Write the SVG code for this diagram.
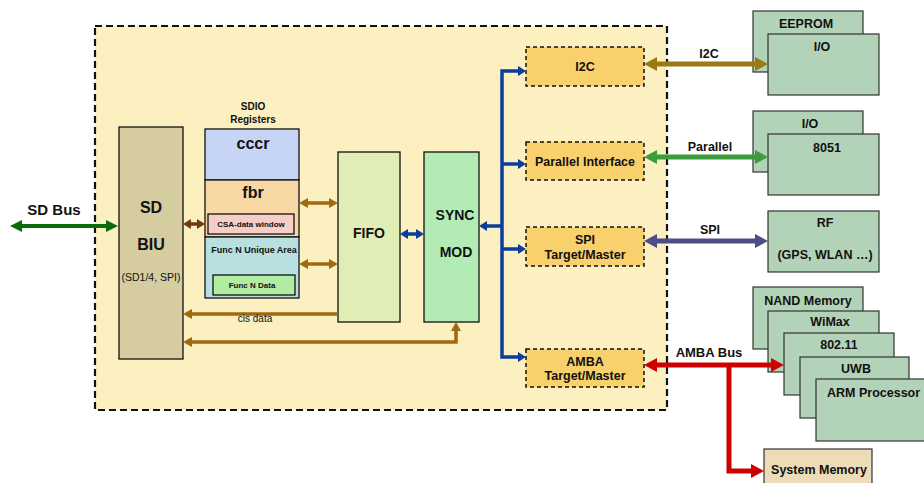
<svg xmlns="http://www.w3.org/2000/svg" width="924" height="483" viewBox="0 0 924 483">
<style>
text{font-family:"Liberation Sans",Arial,sans-serif;font-weight:bold;fill:#111;text-anchor:middle}
.n{font-weight:normal}
.box{stroke:#111;stroke-width:1.3}
.ext{fill:#b3d3b8;stroke:#333;stroke-width:1.2}
.ifc{fill:#f8d06c;stroke:#111;stroke-width:1.5;stroke-dasharray:4 3}
.br{stroke:#a0680f;stroke-width:3.5;fill:none}
.bl{stroke:#0b3d9e;stroke-width:3.5;fill:none}
</style>
<defs>
<marker id="mSd" viewBox="0 0 12 12" refX="1" refY="6" markerWidth="12" markerHeight="12" markerUnits="userSpaceOnUse" orient="auto-start-reverse"><path d="M0,0 L12,6 L0,12 z" fill="#0a6b0a"/></marker>
<marker id="mDb" viewBox="0 0 8 10" refX="1" refY="5" markerWidth="8" markerHeight="10" markerUnits="userSpaceOnUse" orient="auto-start-reverse"><path d="M0,0 L8,5 L0,10 z" fill="#6b3c0f"/></marker>
<marker id="mBr" viewBox="0 0 9 10" refX="1" refY="5" markerWidth="9" markerHeight="10" markerUnits="userSpaceOnUse" orient="auto-start-reverse"><path d="M0,0 L9,5 L0,10 z" fill="#a0680f"/></marker>
<marker id="mBl" viewBox="0 0 8 10" refX="1" refY="5" markerWidth="8" markerHeight="10" markerUnits="userSpaceOnUse" orient="auto-start-reverse"><path d="M0,0 L8,5 L0,10 z" fill="#0b3d9e"/></marker>
<marker id="mI2" viewBox="0 0 13 14" refX="1" refY="7" markerWidth="13" markerHeight="14" markerUnits="userSpaceOnUse" orient="auto-start-reverse"><path d="M0,0 L13,7 L0,14 z" fill="#9a7a16"/></marker>
<marker id="mPa" viewBox="0 0 13 14" refX="1" refY="7" markerWidth="13" markerHeight="14" markerUnits="userSpaceOnUse" orient="auto-start-reverse"><path d="M0,0 L13,7 L0,14 z" fill="#3c9c3c"/></marker>
<marker id="mSp" viewBox="0 0 13 14" refX="1" refY="7" markerWidth="13" markerHeight="14" markerUnits="userSpaceOnUse" orient="auto-start-reverse"><path d="M0,0 L13,7 L0,14 z" fill="#4e4d86"/></marker>
<marker id="mAm" viewBox="0 0 13 14" refX="1" refY="7" markerWidth="13" markerHeight="14" markerUnits="userSpaceOnUse" orient="auto-start-reverse"><path d="M0,0 L13,7 L0,14 z" fill="#cc0000"/></marker>
</defs>

<g id="sdio-card">
<rect x="95" y="26" width="572" height="384" fill="#fcefc0" stroke="#111" stroke-width="2.2" stroke-dasharray="7 4"/>
</g>

<g id="sd-biu">
<rect class="box" x="119" y="127" width="64" height="232" fill="#d5cca0"/>
<text x="151" y="213" font-size="16">SD</text>
<text x="151" y="250" font-size="16">BIU</text>
<text class="n" x="151" y="281" font-size="10.5" fill="#333">(SD1/4, SPI)</text>
</g>

<g id="sdio-registers">
<text x="253" y="110" font-size="10">SDIO</text>
<text x="253" y="123" font-size="10">Registers</text>
<rect class="box" x="205" y="129" width="94" height="51" fill="#c6d4f5"/>
<text x="253" y="149" font-size="16">cccr</text>
<rect class="box" x="205" y="180" width="94" height="57" fill="#f8d9a5"/>
<text x="253" y="198" font-size="16">fbr</text>
<rect class="box" x="208" y="214" width="86" height="20" fill="#f5cfc5"/>
<text x="251" y="227" font-size="8">CSA-data window</text>
<rect class="box" x="205" y="237" width="94" height="61" fill="#b8e0e0"/>
<text x="254" y="253" font-size="9">Func N Unique Area</text>
<rect class="box" x="213" y="275" width="82" height="20" fill="#b2eba2"/>
<text x="252" y="288" font-size="8">Func N Data</text>
</g>

<g id="fifo">
<rect class="box" x="338" y="152" width="62" height="170" fill="#e0edb5"/>
<text x="369" y="238" font-size="14">FIFO</text>
</g>

<g id="sync-mod">
<rect class="box" x="424" y="152" width="55" height="170" fill="#b3ebb5"/>
<text x="455" y="220" font-size="14">SYNC</text>
<text x="456" y="257" font-size="14">MOD</text>
</g>

<g id="i2c">
<rect class="ifc" x="526" y="47" width="118" height="39"/>
<text x="585" y="71" font-size="12.5">I2C</text>
</g>
<g id="parallel-interface">
<rect class="ifc" x="526" y="142" width="118" height="38"/>
<text x="585" y="166" font-size="12.5">Parallel Interface</text>
</g>
<g id="spi">
<rect class="ifc" x="526" y="227" width="118" height="39"/>
<text x="585" y="244" font-size="12.5">SPI</text>
<text x="585" y="259" font-size="12.5">Target/Master</text>
</g>
<g id="amba">
<rect class="ifc" x="526" y="349" width="118" height="38"/>
<text x="585" y="366" font-size="12.5">AMBA</text>
<text x="585" y="380" font-size="12.5">Target/Master</text>
</g>

<g id="eeprom">
<rect class="ext" x="753" y="11" width="110" height="61"/>
<text x="806" y="28" font-size="12.5">EEPROM</text>
<rect class="ext" x="768" y="34" width="111" height="61"/>
<text x="822" y="51" font-size="12.5">I/O</text>
</g>

<g id="io-8051">
<rect class="ext" x="753" y="111" width="110" height="61"/>
<text x="810" y="128" font-size="12.5">I/O</text>
<rect class="ext" x="768" y="134" width="111" height="61"/>
<text x="827" y="152" font-size="12.5">8051</text>
</g>

<g id="rf">
<rect class="ext" x="768" y="211" width="111" height="61"/>
<text x="825" y="227" font-size="12.5">RF</text>
<text x="825" y="259" font-size="12.5">(GPS, WLAN …)</text>
</g>

<g id="amba-devices">
<rect class="ext" x="753" y="287" width="110" height="62"/>
<text x="808" y="305" font-size="12.5">NAND Memory</text>
<rect class="ext" x="768" y="311" width="111" height="61"/>
<text x="830" y="326" font-size="12.5">WiMax</text>
<rect class="ext" x="784" y="333" width="110" height="62"/>
<text x="839" y="349" font-size="12.5">802.11</text>
<rect class="ext" x="800" y="357" width="109" height="61"/>
<text x="856" y="373" font-size="12.5">UWB</text>
<rect class="ext" x="816" y="379" width="112" height="62"/>
<text x="827" y="397" font-size="12.5" style="text-anchor:start">ARM Processor</text>
</g>

<g id="system-memory">
<rect x="764" y="449" width="108" height="40" fill="#ecdcb8" stroke="#333" stroke-width="1.2"/>
<text x="819" y="474" font-size="12.5">System Memory</text>
</g>

<g id="connectors">
<path d="M21,226 H107" stroke="#0a6b0a" stroke-width="4" marker-start="url(#mSd)" marker-end="url(#mSd)"/>
<text x="54" y="215" font-size="15">SD Bus</text>

<path d="M190,224 H198" stroke="#6b3c0f" stroke-width="3.5" marker-start="url(#mDb)" marker-end="url(#mDb)"/>
<path class="br" d="M307,203 H330" marker-start="url(#mBr)" marker-end="url(#mBr)"/>
<path class="br" d="M307,264 H330" marker-start="url(#mBr)" marker-end="url(#mBr)"/>
<path class="br" d="M338,314 H191" marker-end="url(#mBr)"/>
<text class="n" x="255" y="322" font-size="10" fill="#333">cis data</text>
<path class="br" d="M456,330 V342 H191" marker-start="url(#mBr)" marker-end="url(#mBr)"/>

<path class="bl" d="M407,234 H417" marker-start="url(#mBl)" marker-end="url(#mBl)"/>
<path class="bl" d="M519,71 H502 V357 H519" marker-start="url(#mBl)" marker-end="url(#mBl)"/>
<path class="bl" d="M502,164 H519" marker-end="url(#mBl)"/>
<path class="bl" d="M502,249 H519" marker-end="url(#mBl)"/>
<path class="bl" d="M502,226 H486" marker-end="url(#mBl)"/>

<path d="M656,64 H756" stroke="#9a7a16" stroke-width="5" marker-start="url(#mI2)" marker-end="url(#mI2)"/>
<text x="709" y="58" font-size="12.5">I2C</text>
<path d="M656,157 H756" stroke="#3c9c3c" stroke-width="5" marker-start="url(#mPa)" marker-end="url(#mPa)"/>
<text x="710" y="151" font-size="12.5">Parallel</text>
<path d="M656,241 H756" stroke="#4e4d86" stroke-width="5" marker-start="url(#mSp)" marker-end="url(#mSp)"/>
<text x="710" y="234" font-size="12.5">SPI</text>
<path d="M656,365 H772" stroke="#cc0000" stroke-width="5" marker-start="url(#mAm)" marker-end="url(#mAm)"/>
<path d="M729,365 V471 H752" stroke="#cc0000" stroke-width="5" fill="none" marker-end="url(#mAm)"/>
<text x="709" y="357" font-size="13">AMBA Bus</text>
</g>
</svg>
